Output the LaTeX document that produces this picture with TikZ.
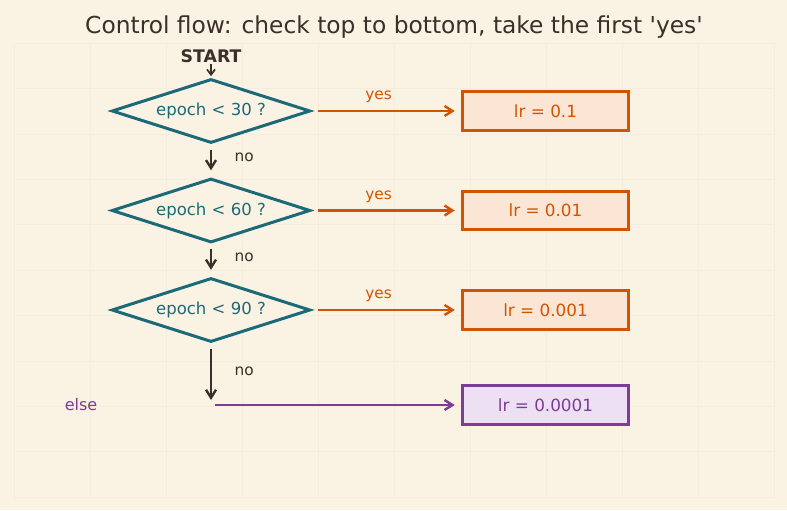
\documentclass[tikz,border=0pt]{standalone}
\usepackage{fontspec}
\setmainfont{DejaVu Sans}
\usetikzlibrary{shapes.geometric, arrows.meta, positioning}

\definecolor{bgcream}{HTML}{FAF3E4}
\definecolor{gridcol}{HTML}{F4ECDC}
\definecolor{inkdark}{HTML}{3B2F28}
\definecolor{tealc}{HTML}{1C6A78}
\definecolor{orangec}{HTML}{D35400}
\definecolor{peach}{HTML}{FBE6D6}
\definecolor{purplec}{HTML}{7D3C98}
\definecolor{lavender}{HTML}{EDE0F2}

\tikzset{
  test/.style={diamond, aspect=3.125, draw=tealc, line width=2.25pt, fill=bgcream,
    minimum width=149pt, minimum height=48pt, inner sep=0pt,
    text=tealc, font=\fontsize{12.4}{14}\selectfont},
  rate/.style={rectangle, draw=orangec, line width=2.1pt, fill=peach,
    minimum width=124pt, minimum height=29pt, inner sep=0pt,
    text=orangec, font=\fontsize{12.6}{14}\selectfont},
  yesarrow/.style={draw=orangec, line width=1.8pt, -{Straight Barb[length=6pt,width=7.5pt]},
    shorten <=4.5pt, shorten >=5pt},
  noarrow/.style={draw=inkdark, line width=1.8pt, -{Straight Barb[length=6pt,width=7.5pt]}},
  lbl/.style={font=\fontsize{11.5}{13}\selectfont}
}

\begin{document}
\begin{tikzpicture}[x=0.75pt,y=-0.75pt]
  \fill[bgcream] (0,0) rectangle (787,510);
  \useasboundingbox (0,0) rectangle (787,510);
  % faint grid
  \foreach \gx in {0,...,10}
    \draw[gridcol, line width=0.4pt] (14+76*\gx,43) -- (14+76*\gx,497);
  \foreach \gy in {0,...,10}
    \draw[gridcol, line width=0.4pt] (14,43+45.4*\gy) -- (773,43+45.4*\gy);

  \node[text=inkdark, font=\fontsize{17.5}{20}\selectfont] (title) at (394,27.5)
    {Control flow: check top to bottom, take the first \textquotesingle yes\textquotesingle};

  \node[text=inkdark, font=\bfseries\fontsize{13}{15}\selectfont, inner sep=1pt] (start) at (211,56) {START};

  % tests
  \node[test] (d1) at (211,111) {epoch < 30 ?};
  \node[test] (d2) at (211,210.5) {epoch < 60 ?};
  \node[test] (d3) at (211,310) {epoch < 90 ?};

  % learning rates
  \node[rate] (b1) at (545.5,111) {lr = 0.1};
  \node[rate] (b2) at (545.5,210.5) {lr = 0.01};
  \node[rate] (b3) at (545.5,310) {lr = 0.001};
  \node[rate, draw=purplec, fill=lavender, text=purplec] (b4) at (545.5,405) {lr = 0.0001};

  \coordinate (elsept) at (211,405);
  \node[text=purplec, font=\fontsize{12}{14}\selectfont] (elselbl) at (81,405) {else};

  \draw[noarrow, line width=1.3pt, -{Straight Barb[length=4pt,width=6pt]}, shorten >=1pt] (start.south) -- (d1.north);

  \draw[yesarrow] (d1.east) -- node[above=2pt, xshift=-6pt, text=orangec, lbl] {yes} (b1.west);
  \draw[yesarrow] (d2.east) -- node[above=2pt, xshift=-6pt, text=orangec, lbl] {yes} (b2.west);
  \draw[yesarrow] (d3.east) -- node[above=2pt, xshift=-6pt, text=orangec, lbl] {yes} (b3.west);

  \draw[noarrow, shorten <=4pt, shorten >=5pt] (d1.south) -- node[right=13.5pt, text=inkdark, lbl, pos=0.4] {no} (d2.north);
  \draw[noarrow, shorten <=4pt, shorten >=5pt] (d2.south) -- node[right=13.5pt, text=inkdark, lbl, pos=0.4] {no} (d3.north);
  \draw[noarrow, shorten <=3.75pt, shorten >=3.75pt] (d3.south) -- node[right=13.5pt, text=inkdark, lbl, pos=0.45] {no} (elsept);

  \draw[yesarrow, draw=purplec, shorten <=3pt] (elsept) -- (b4.west);
\end{tikzpicture}
\end{document}
